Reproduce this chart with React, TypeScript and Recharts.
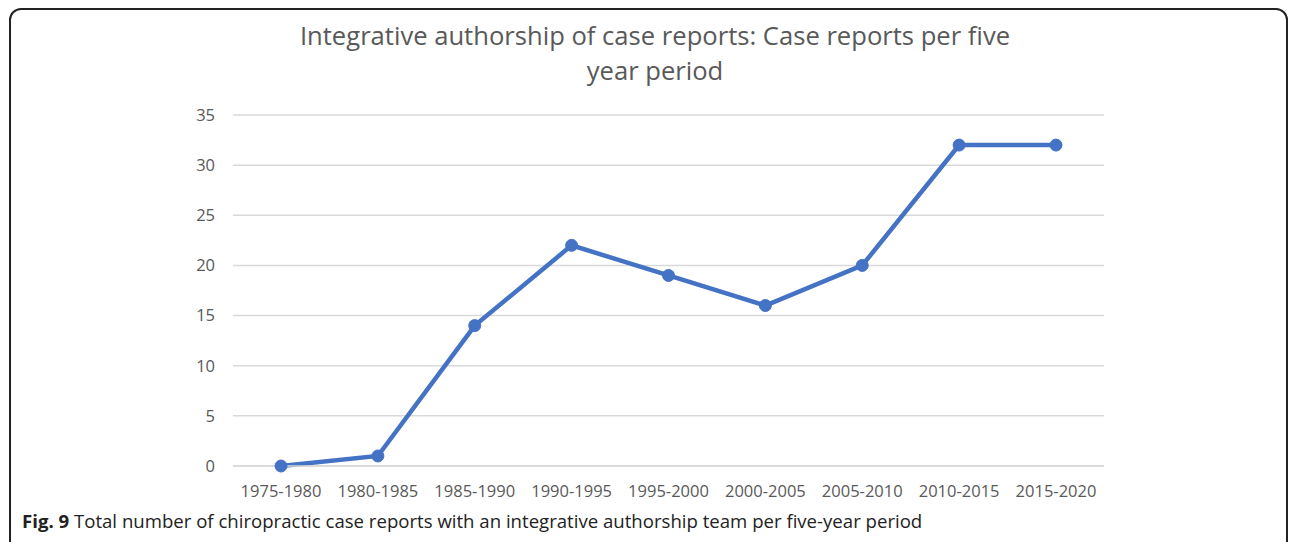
import { LineChart, Line, XAxis, YAxis, CartesianGrid } from "recharts";

const periods = [
  "1975-1980",
  "1980-1985",
  "1985-1990",
  "1990-1995",
  "1995-2000",
  "2000-2005",
  "2005-2010",
  "2010-2015",
  "2015-2020",
];
const caseReports = [0, 1, 14, 22, 19, 16, 20, 32, 32];
const yTicks = [0, 5, 10, 15, 20, 25, 30, 35];

const data = periods.map((period, i) => ({ period, reports: caseReports[i] }));

const FONT = "'Open Sans', 'Noto Sans', sans-serif";

export default function App() {
  return (
    <div
      style={{
        position: "absolute",
        left: 0,
        top: 0,
        width: 1292,
        height: 542,
        overflow: "hidden",
        background: "#fff",
        fontFamily: FONT,
      }}
    >
      {/* frame */}
      <div
        style={{
          position: "absolute",
          left: 9,
          top: 8,
          width: 1279,
          height: 560,
          border: "2px solid #222",
          borderRadius: 12,
          boxSizing: "border-box",
        }}
      />
      <div
        style={{
          position: "absolute",
          left: 0,
          width: 1310,
          top: 18,
          textAlign: "center",
          fontSize: 25.6,
          lineHeight: "35px",
          color: "#595959",
        }}
      >
        Integrative authorship of case reports: Case reports per five
        <br />
        year period
      </div>
      <LineChart
        width={1292}
        height={542}
        data={data}
        margin={{ top: 115, right: 188, bottom: 46, left: 173 }}
        style={{ position: "absolute", left: 0, top: 0 }}
      >
        <CartesianGrid vertical={false} stroke="#d9d9d9" strokeWidth={1.5} />
        <XAxis
          dataKey="period"
          height={30}
          padding={{ left: 48, right: 48 }}
          axisLine={{ stroke: "#d9d9d9", strokeWidth: 1.5 }}
          tickLine={false}
          tickSize={0}
          tickMargin={19}
          interval={0}
          tick={{ fill: "#595959", fontSize: 16.5, fontFamily: FONT }}
        />
        <YAxis
          width={60}
          domain={[0, 35]}
          ticks={yTicks}
          axisLine={false}
          tickLine={false}
          tickSize={0}
          tickMargin={18}
          tick={{ fill: "#595959", fontSize: 16.5, fontFamily: FONT }}
        />
        <Line
          dataKey="reports"
          stroke="#4472c4"
          strokeWidth={4.5}
          dot={{ r: 6, fill: "#4472c4", stroke: "#4472c4", strokeWidth: 1 }}
          isAnimationActive={false}
        />
      </LineChart>
      <div
        style={{
          position: "absolute",
          left: 22,
          top: 508,
          fontSize: 18.6,
          color: "#222",
          whiteSpace: "nowrap",
        }}
      >
        <b>Fig. 9</b> Total number of chiropractic case reports with an integrative authorship team per five-year period
      </div>
    </div>
  );
}
